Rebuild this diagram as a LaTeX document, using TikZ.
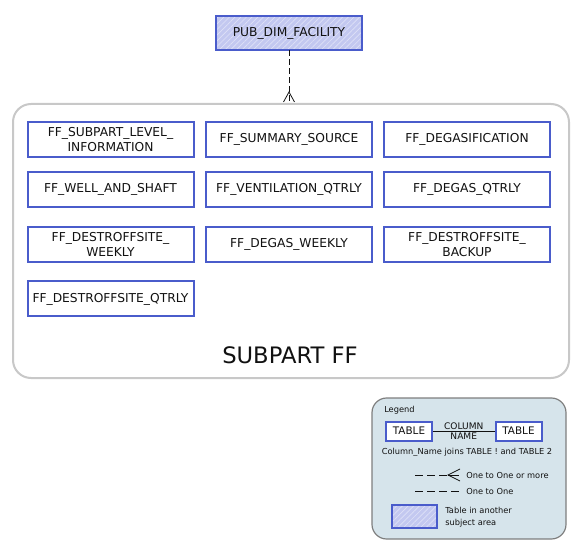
\documentclass[tikz,border=0pt]{standalone}
\usepackage{fontspec}
\setmainfont{DejaVu Sans}
\usetikzlibrary{patterns.meta, positioning}
\definecolor{erdBlue}{HTML}{4A5CCB}
\definecolor{erdHatch}{HTML}{C3C8F0}
\definecolor{erdFrame}{HTML}{C8C8C8}
\definecolor{erdLegend}{HTML}{D6E4EB}
\definecolor{erdLegendLine}{HTML}{7E7E7E}
\definecolor{erdInk}{HTML}{111111}

\begin{document}
\begin{tikzpicture}[
        x=0.75pt,
        y=-0.75pt,
        font=\fontsize{9.2}{11}\selectfont,
        tablebox/.style={rectangle, draw=erdBlue, line width=1.5pt, fill=white,
                         align=center, text=erdInk, inner sep=1pt,
                         minimum width=124.5pt, minimum height=26.25pt},
        extbox/.style={tablebox, preaction={fill=erdHatch},
                       pattern={Lines[angle=45, distance=3pt, line width=0.5pt]},
                       pattern color=white!45!erdHatch},
        area/.style={rectangle, draw=erdFrame, line width=1.5pt, fill=white,
                     rounded corners=13.5pt, minimum width=417pt, minimum height=205.5pt},
        legendbox/.style={rectangle, draw=erdLegendLine, line width=0.9pt, fill=erdLegend,
                          rounded corners=11pt, minimum width=145.5pt, minimum height=105.75pt},
        legtable/.style={tablebox, font=\fontsize{7.8}{9}\selectfont,
                         minimum width=34.5pt, minimum height=14.25pt},
        legext/.style={extbox, minimum width=33.75pt, minimum height=17.25pt},
        legtext/.style={font=\fontsize{6.2}{9}\selectfont, text=erdInk, inner sep=0pt},
        relline/.style={draw=erdInk, line width=0.75pt, dash pattern=on 4.5pt off 2.25pt},
        legline/.style={draw=erdInk, line width=0.6pt, dash pattern=on 6pt off 3pt},
        foot/.style={draw=erdInk, line width=0.6pt}
    ]

    \useasboundingbox (0,0) rectangle (582,552);

    % Subject area and the external table
    \node[extbox, minimum width=109.5pt, minimum height=25.5pt] (pub) at (289,33) {PUB\_DIM\_FACILITY};
    \node[area] (ff) at (291,241) {};
    \node[font=\fontsize{17}{19}\selectfont, text=erdInk] (fflabel) at (290,355) {SUBPART FF};

    % Tables of subpart FF
    \node[tablebox] (level)     at (110.5,139.5) {FF\_SUBPART\_LEVEL\_\\INFORMATION};
    \node[tablebox] (summary)   at (289,139.5)   {FF\_SUMMARY\_SOURCE};
    \node[tablebox] (degasif)   at (467,139.5)   {FF\_DEGASIFICATION};
    \node[tablebox] (well)      at (110.5,189.5) {FF\_WELL\_AND\_SHAFT};
    \node[tablebox] (vent)      at (289,189.5)   {FF\_VENTILATION\_QTRLY};
    \node[tablebox] (degasq)    at (467,189.5)   {FF\_DEGAS\_QTRLY};
    \node[tablebox] (destweek)  at (110.5,244.5) {FF\_DESTROFFSITE\_\\WEEKLY};
    \node[tablebox] (degasweek) at (289,244.5)   {FF\_DEGAS\_WEEKLY};
    \node[tablebox] (destback)  at (467,244.5)   {FF\_DESTROFFSITE\_\\BACKUP};
    \node[tablebox] (destqtr)   at (110.5,299)   {FF\_DESTROFFSITE\_QTRLY};

    % One to one or more
    \coordinate (foottip) at (pub.south |- ff.north);
    \draw[relline] (pub.south) -- (foottip);
    \draw[foot] (foottip) ++(-5.5,-1) -- ++(5.5,-10) -- ++(5.5,10);

    % Legend
    \node[legendbox] (legend) at (469,468.5) {};
    \node[legtext, anchor=west] (legtitle) at (384,410) {Legend};
    \node[legtable] (lt1) at (409,431) {TABLE};
    \node[legtable] (lt2) at (518.5,431) {TABLE};
    \draw[draw=erdInk, line width=0.6pt] (lt1.east) -- (lt2.west)
        node[midway, above=0.4pt, legtext, font=\fontsize{6.8}{7}\selectfont]{COLUMN}
        node[midway, below=0.8pt, legtext, font=\fontsize{6.8}{7}\selectfont]{NAME};
    \node[legtext] (legjoin) at (467,452) {Column\_Name joins TABLE ! and TABLE 2};

    \coordinate (many1) at (415,475);
    \coordinate (many2) at (448,475);
    \node[legtext, anchor=west] (legmany) at (466,475) {One to One or more};
    \draw[legline] (many1) -- (many2);
    \draw[foot] (many2) -- ++(11,0);
    \draw[foot] (460,469) -- (many2) -- (460,481);

    \coordinate (one1) at (415,491);
    \node[legtext, anchor=west] (legone) at (466,491) {One to One};
    \draw[legline] (one1) -- (legone.west -| 460,0);

    \node[legext] (legarea) at (414.5,516.5) {};
    \node[legtext, anchor=west, align=left] (legareatext) at (445,517) {Table in another\\subject area};

\end{tikzpicture}
\end{document}
